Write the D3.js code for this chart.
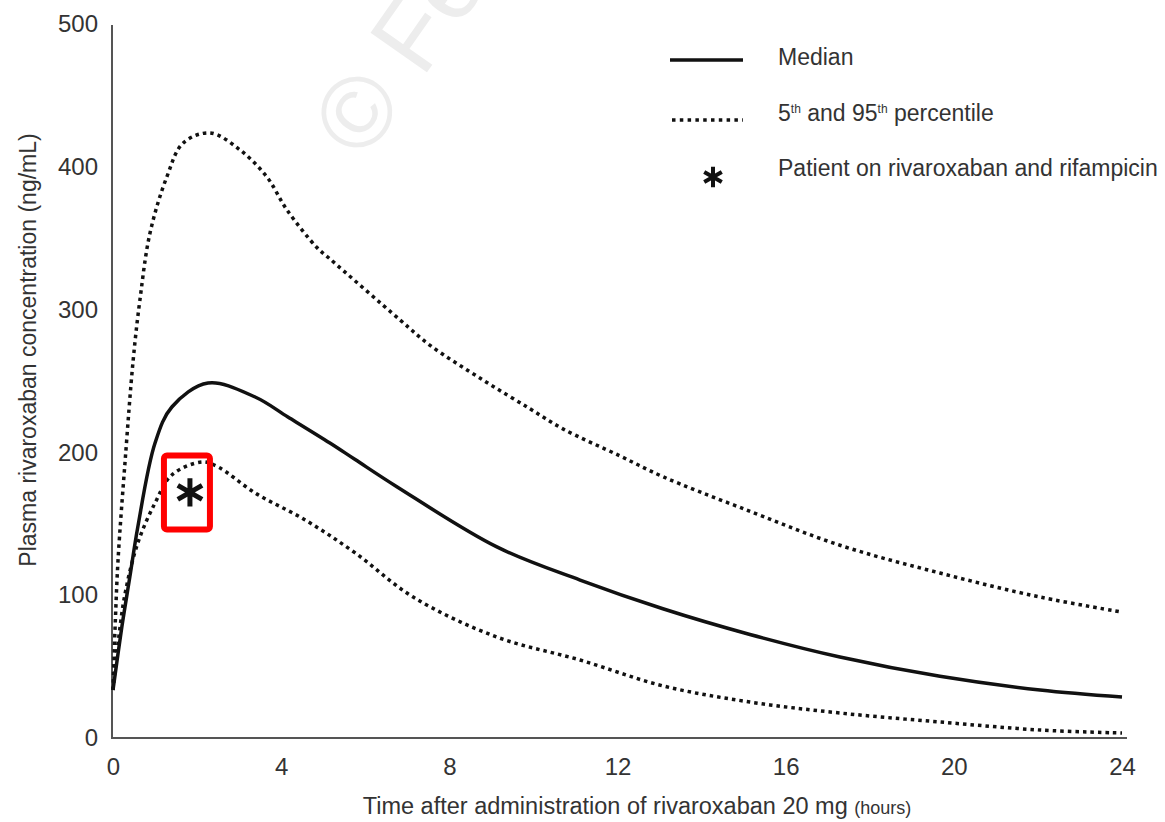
<!DOCTYPE html>
<html>
<head>
<meta charset="utf-8">
<script src="https://cdn.jsdelivr.net/npm/d3@7"></script>
<style>
  body { margin: 0; background: #fff; }
  svg { display: block; }
  text { font-family: "Liberation Sans Narrow", "Arial Narrow", "Liberation Sans", sans-serif; fill: #333; }
</style>
</head>
<body>
<svg width="1165" height="822"></svg>
<script>
const width = 1165;
const height = 822;

// hours after dose
const medianTime = [0, 0.21, 0.40, 0.59, 1.0, 1.40, 2.26, 3.38, 4.16, 5.16, 5.76, 6.76, 9.13, 11.11, 13.08, 15.15, 17.29, 19.67, 22.05, 24];
const medianConc = [33.6, 77.7, 112.7, 147.8, 206.6, 231.8, 248.6, 238.8, 224.8, 206.6, 195, 175.8, 133.8, 110.6, 90.5, 72.5, 56.7, 43.2, 33.6, 28.7];

const p95Time = [0, 0.05, 0.12, 0.29, 0.48, 0.64, 0.88, 1.28, 1.67, 2.31, 3.02, 3.66, 4.14, 4.85, 5.16, 6.83, 7.54, 8.80, 9.92, 10.70, 12.06, 13.08, 14.91, 17.29, 19.67, 22.05, 24];
const p95Conc = [33.6, 77.7, 124.6, 194.7, 264.7, 306.7, 353.6, 392.9, 416.7, 423.7, 411.8, 392.9, 369.7, 343.5, 335.5, 292.7, 275, 250.7, 230.5, 216.5, 197.5, 183, 161.5, 135, 115.5, 98.7, 88.2];

const p5Time = [0, 0.12, 0.29, 0.59, 1.0, 1.40, 2.12, 2.50, 3.38, 4.57, 5.76, 7.14, 9.13, 11.11, 13.08, 15.15, 17.29, 19.67, 22.05, 24];
const p5Conc = [33.6, 66.5, 101.5, 136.6, 164.6, 184.2, 193.3, 189.8, 171.6, 152.7, 129.6, 98.7, 70.7, 54.6, 36.5, 25.2, 17.5, 11.2, 5.6, 3.5];

const patient = { time: 1.83, conc: 172 };

const xTicks = [0, 4, 8, 12, 16, 20, 24];
const yTicks = [0, 100, 200, 300, 400, 500];

const svg = d3.select('svg');

const x = d3.scaleLinear().domain([0, 24]).range([113, 1122]);
const y = d3.scaleLinear().domain([0, 500]).range([738, 24]);

// faint watermark (runs off the top edge, as in the source)
svg.append('text')
  .attr('transform', 'translate(364,162) rotate(-55)')
  .style('font-family', '"Liberation Sans", sans-serif')
  .style('font-size', '100px')
  .style('fill', '#ededed')
  .text('\u00A9 Fe');

// axes
svg.append('g')
  .attr('transform', 'translate(112,0)')
  .call(d3.axisLeft(y).tickValues(yTicks).tickSize(0).tickPadding(14))
  .call(g => g.select('.domain').remove())
  .selectAll('text')
    .style('font-size', '24px')
    .attr('fill', '#333');

svg.append('g')
  .attr('transform', 'translate(0,738)')
  .call(d3.axisBottom(x).tickValues(xTicks).tickSize(0).tickPadding(20))
  .call(g => g.select('.domain').remove())
  .selectAll('text')
    .style('font-size', '24px')
    .attr('fill', '#333');

svg.append('line')
  .attr('x1', 112).attr('x2', 112)
  .attr('y1', y(500) + 1).attr('y2', y(0))
  .attr('stroke', '#555').attr('stroke-width', 2);

svg.append('line')
  .attr('x1', 111).attr('x2', x(24) + 5)
  .attr('y1', y(0)).attr('y2', y(0))
  .attr('stroke', '#555').attr('stroke-width', 2);

// curves
const line = d3.line()
  .x(d => x(d[0]))
  .y(d => y(d[1]))
  .curve(d3.curveCatmullRom.alpha(0.5));

const series = [
  { t: p95Time, c: p95Conc, dotted: true },
  { t: p5Time, c: p5Conc, dotted: true },
  { t: medianTime, c: medianConc, dotted: false }
];

svg.append('g')
  .attr('fill', 'none')
  .selectAll('path')
  .data(series)
  .join('path')
    .attr('d', s => line(d3.zip(s.t, s.c)))
    .attr('stroke', '#111')
    .attr('stroke-width', 3.5)
    .attr('stroke-dasharray', s => s.dotted ? '3.5,4' : null);

// patient marker + red highlight box
const star = d3.symbol().type(d3.symbolAsterisk);

svg.append('path')
  .attr('transform', `translate(${x(patient.time)},${y(patient.conc)})`)
  .attr('d', star.size(555)())
  .attr('fill', 'none')
  .attr('stroke', '#111')
  .attr('stroke-width', 5);

svg.append('rect')
  .attr('x', x(patient.time) - 26)
  .attr('y', y(patient.conc) - 37)
  .attr('width', 46)
  .attr('height', 74)
  .attr('rx', 3)
  .attr('fill', 'none')
  .attr('stroke', '#f00')
  .attr('stroke-width', 6);

// legend
const legend = svg.append('g');

legend.append('line')
  .attr('x1', 670).attr('x2', 743).attr('y1', 60).attr('y2', 60)
  .attr('stroke', '#111').attr('stroke-width', 3.5);

legend.append('line')
  .attr('x1', 672).attr('x2', 743).attr('y1', 120).attr('y2', 120)
  .attr('stroke', '#111').attr('stroke-width', 3.5)
  .attr('stroke-dasharray', '3.5,4.3');

legend.append('path')
  .attr('transform', 'translate(713,177)')
  .attr('d', star.size(290)())
  .attr('fill', 'none')
  .attr('stroke', '#111')
  .attr('stroke-width', 4);

legend.append('text')
  .attr('x', 778).attr('y', 65)
  .style('font-size', '23px')
  .text('Median');

const pct = legend.append('text')
  .attr('x', 778).attr('y', 121)
  .style('font-size', '23px');
pct.append('tspan').text('5');
pct.append('tspan').attr('dy', -8).style('font-size', '12px').text('th');
pct.append('tspan').attr('dy', 8).text(' and 95');
pct.append('tspan').attr('dy', -8).style('font-size', '12px').text('th');
pct.append('tspan').attr('dy', 8).text(' percentile');

legend.append('text')
  .attr('x', 778).attr('y', 176)
  .style('font-size', '23px')
  .text('Patient on rivaroxaban and rifampicin');

// axis titles
const xt = svg.append('text')
  .attr('x', 637).attr('y', 814)
  .attr('text-anchor', 'middle')
  .style('font-size', '23.5px');
xt.append('tspan').text('Time after administration of rivaroxaban 20 mg ');
xt.append('tspan').style('font-size', '18px').text('(hours)');

svg.append('text')
  .attr('transform', 'translate(36,350) rotate(-90)')
  .attr('text-anchor', 'middle')
  .style('font-size', '23px')
  .text('Plasma rivaroxaban concentration (ng/mL)');
</script>
</body>
</html>
